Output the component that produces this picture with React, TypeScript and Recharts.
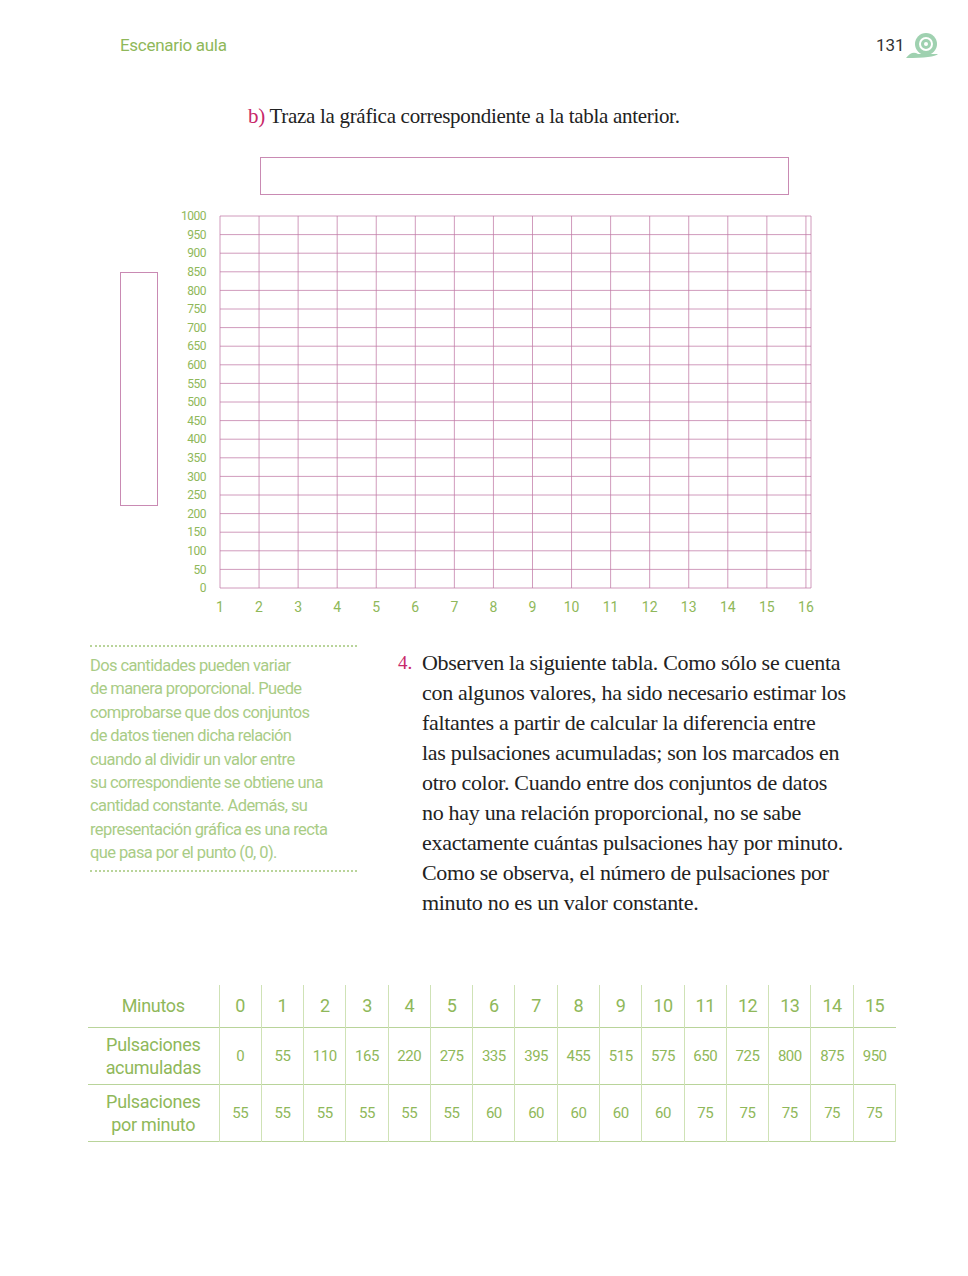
import React from 'react';
import { LineChart, Line, XAxis, YAxis, CartesianGrid } from 'recharts';

const xTicks = [1, 2, 3, 4, 5, 6, 7, 8, 9, 10, 11, 12, 13, 14, 15, 16];
const yTicks = [0, 50, 100, 150, 200, 250, 300, 350, 400, 450, 500, 550, 600, 650, 700, 750, 800, 850, 900, 950, 1000];
const minutos = [0, 1, 2, 3, 4, 5, 6, 7, 8, 9, 10, 11, 12, 13, 14, 15];
const acumuladas = [0, 55, 110, 165, 220, 275, 335, 395, 455, 515, 575, 650, 725, 800, 875, 950];
const porMinuto = [55, 55, 55, 55, 55, 55, 60, 60, 60, 60, 60, 75, 75, 75, 75, 75];

const sideLines = [
  'Dos cantidades pueden variar',
  'de manera proporcional. Puede',
  'comprobarse que dos conjuntos',
  'de datos tienen dicha relación',
  'cuando al dividir un valor entre',
  'su correspondiente se obtiene una',
  'cantidad constante. Además, su',
  'representación gráfica es una recta',
  'que pasa por el punto (0, 0).',
];
const mainLines = [
  'Observen la siguiente tabla. Como sólo se cuenta',
  'con algunos valores, ha sido necesario estimar los',
  'faltantes a partir de calcular la diferencia entre',
  'las pulsaciones acumuladas; son los marcados en',
  'otro color. Cuando entre dos conjuntos de datos',
  'no hay una relación proporcional, no se sabe',
  'exactamente cuántas pulsaciones hay por minuto.',
  'Como se observa, el número de pulsaciones por',
  'minuto no es un valor constante.',
];

const green = '#8fb85a';
const lightGreen = '#a9cc86';
const pink = '#c98ab3';
const narrow = '"Roboto", sans-serif';
const serif = '"Liberation Serif", "DejaVu Serif", serif';

const abs = (l: number, t: number): React.CSSProperties => ({ position: 'absolute', left: l, top: t });

// the grid is empty in the book; the table values only feed the axes
const chartData = minutos.map((m, i) => ({ x: m + 1, y: acumuladas[i] }));

export default function App() {
  const cell: React.CSSProperties = { borderLeft: '1px solid #cfe2b6', textAlign: 'center', color: green, fontFamily: narrow, fontSize: 15, padding: 0, letterSpacing: -0.5 };
  const head: React.CSSProperties = { color: green, fontFamily: narrow, fontSize: 18, textAlign: 'center', lineHeight: '23px', padding: 0, letterSpacing: -0.3 };
  return (
    <div style={{ position: 'absolute', left: 0, top: 0, width: 968, height: 1276, background: '#fff', overflow: 'hidden' }}>
      <div style={{ ...abs(120, 35), color: green, fontFamily: narrow, fontSize: 17, letterSpacing: -0.3 }}>Escenario aula</div>
      <div style={{ ...abs(876, 35), color: '#333', fontFamily: narrow, fontSize: 17 }}>131</div>
      <svg style={abs(904, 30)} width={36} height={30}>
        <path d="M2 28 Q8 20 14 24 L34 24 Q30 28 2 28 Z" fill="#9fd1b0" />
        <circle cx={22} cy={14} r={11} fill="#9fd1b0" />
        <circle cx={22} cy={14} r={6} fill="none" stroke="#fff" strokeWidth={2} />
        <circle cx={22} cy={14} r={2} fill="#fff" />
      </svg>
      <div style={{ ...abs(248, 104), fontFamily: serif, fontSize: 21, color: '#222', letterSpacing: -0.3 }}>
        <span style={{ color: '#c8286a' }}>b)</span> Traza la gráfica correspondiente a la tabla anterior.
      </div>
      <div style={{ ...abs(260, 157), width: 527, height: 36, border: `1px solid ${pink}` }} />
      <div style={{ ...abs(120, 272), width: 36, height: 232, border: `1px solid ${pink}` }} />

      <div style={abs(0, 0)}>
        <LineChart width={968} height={640} data={chartData}
          margin={{ top: 216, right: 157, bottom: 22, left: 0 }}>
          <CartesianGrid stroke="#c07aa6" strokeOpacity={0.75} vertical horizontal />
          <XAxis dataKey="x" type="number" domain={[1, 16.13]} ticks={xTicks} interval={0}
            axisLine={false} tickLine={false} height={30} tickMargin={8}
            tick={{ fill: green, fontFamily: narrow, fontSize: 14 }} />
          <YAxis dataKey="y" type="number" domain={[0, 1000]} ticks={yTicks} interval={0} width={220}
            axisLine={false} tickLine={false} tickSize={0} tickMargin={14}
            tick={{ fill: green, fontFamily: narrow, fontSize: 12, letterSpacing: -0.5 }} />
          <Line dataKey="y" stroke="transparent" dot={false} activeDot={false} isAnimationActive={false} />
        </LineChart>
      </div>

      <div style={{ ...abs(90, 645), width: 267, borderTop: '2px dotted #b9d49a' }} />
      {sideLines.map((t, i) => (
        <div key={i} style={{ ...abs(90, 656 + i * 23.4), color: lightGreen, fontFamily: narrow, fontSize: 16.5, whiteSpace: 'nowrap', letterSpacing: -0.6 }}>{t}</div>
      ))}
      <div style={{ ...abs(90, 870), width: 267, borderTop: '2px dotted #b9d49a' }} />

      <div style={{ ...abs(398, 652), color: '#c8286a', fontFamily: serif, fontSize: 19 }}>4.</div>
      {mainLines.map((t, i) => (
        <div key={i} style={{ ...abs(422, 650 + i * 30), color: '#222', fontFamily: serif, fontSize: 22, whiteSpace: 'nowrap', letterSpacing: -0.3 }}>{t}</div>
      ))}

      <table style={{ ...abs(88, 985), width: 808, borderCollapse: 'collapse', tableLayout: 'fixed' }}>
        <colgroup>
          <col style={{ width: 131 }} />
          {minutos.map((m) => <col key={m} />)}
        </colgroup>
        <tbody>
          <tr style={{ height: 42, borderBottom: '1px solid #b9d49a' }}>
            <td style={head}>Minutos</td>
            {minutos.map((v, i) => <td key={i} style={{ ...cell, fontSize: 18 }}>{v}</td>)}
          </tr>
          <tr style={{ height: 57, borderBottom: '1px solid #b9d49a' }}>
            <td style={head}>Pulsaciones<br />acumuladas</td>
            {acumuladas.map((v, i) => <td key={i} style={cell}>{v}</td>)}
          </tr>
          <tr style={{ height: 57, borderBottom: '1px solid #b9d49a' }}>
            <td style={head}>Pulsaciones<br />por minuto</td>
            {porMinuto.map((v, i) => <td key={i} style={{ ...cell, borderRight: i === 15 ? '1px solid #cfe2b6' : undefined }}>{v}</td>)}
          </tr>
        </tbody>
      </table>
    </div>
  );
}
